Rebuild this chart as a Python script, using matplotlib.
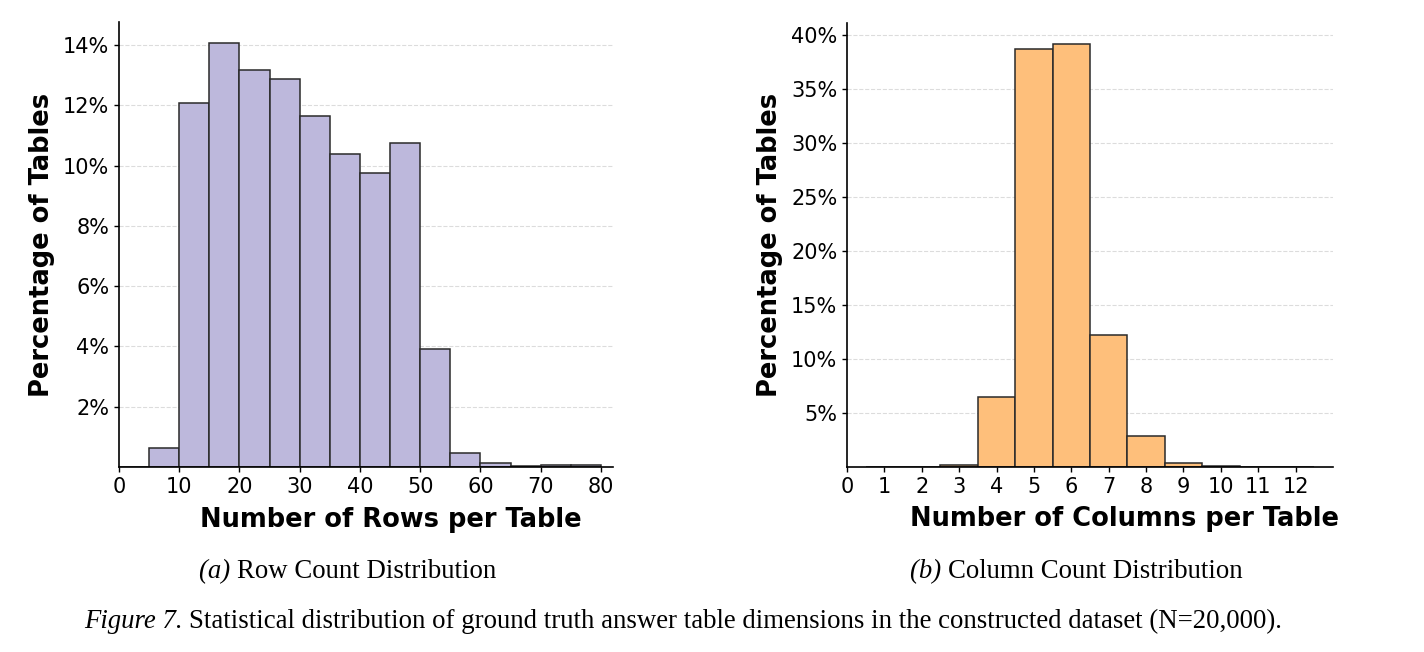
import numpy as np
import matplotlib
matplotlib.use("Agg")
import matplotlib.pyplot as plt
from matplotlib.ticker import FuncFormatter

# row-count histogram: bin edges 0..80 step 5, percent of tables per bin
ROW_EDGES = [0, 5, 10, 15, 20, 25, 30, 35, 40, 45, 50, 55, 60, 65, 70, 75, 80]
ROW_PCT = [0.0, 0.63, 12.08, 14.06, 13.18, 12.86, 11.63, 10.40, 9.75, 10.75, 3.91, 0.45, 0.14, 0.03, 0.05, 0.05]
ROW_TICKS = [0, 10, 20, 30, 40, 50, 60, 70, 80]
ROW_YTICKS = [2, 4, 6, 8, 10, 12, 14]

# column-count histogram: one bin per integer
COL_EDGES = [0.5, 1.5, 2.5, 3.5, 4.5, 5.5, 6.5, 7.5, 8.5, 9.5, 10.5, 11.5, 12.5]
COL_PCT = [0.0, 0.0, 0.15, 6.47, 38.65, 39.11, 12.20, 2.87, 0.40, 0.07, 0.0, 0.0]
COL_TICKS = list(range(13))
COL_YTICKS = [5, 10, 15, 20, 25, 30, 35, 40]

PURPLE = "#bdb8dc"
ORANGE = "#febf7b"

W, H = 1424, 652
fig = plt.figure(figsize=(W / 100, H / 100), dpi=100)


def px_axes(x0, x1, y_top, y_bot):
    return fig.add_axes([x0 / W, 1 - y_bot / H, (x1 - x0) / W, (y_bot - y_top) / H])


def draw_hist(ax, edges, pct, color, xticks, yticks, xlim, xlabel, xlabel_x):
    edges = np.asarray(edges, dtype=float)
    ax.bar(edges[:-1], pct, width=np.diff(edges), align="edge", color=color,
           edgecolor="#2a2a2a", linewidth=1.1, zorder=2)
    ax.set_xlim(*xlim)
    ax.set_ylim(0, max(pct) * 1.05)
    ax.set_xticks(xticks)
    ax.set_yticks(yticks)
    ax.yaxis.set_major_formatter(FuncFormatter(lambda v, _: f"{v:.0f}%"))
    ax.tick_params(labelsize=15, length=3.5, width=1.0)
    ax.grid(axis="y", linestyle="--", color="#dcdcdc", linewidth=0.8, zorder=0)
    ax.set_axisbelow(True)
    for s in ("top", "right"):
        ax.spines[s].set_visible(False)
    for s in ("left", "bottom"):
        ax.spines[s].set_linewidth(1.2)
    ax.set_xlabel(xlabel, fontsize=18.5, fontweight="bold", va="center")
    ax.xaxis.set_label_coords(xlabel_x, -0.118)
    ax.set_ylabel("Percentage of Tables", fontsize=18.5, fontweight="bold", labelpad=6)


ax1 = px_axes(119, 613, 22, 467)
draw_hist(ax1, ROW_EDGES, ROW_PCT, PURPLE, ROW_TICKS, ROW_YTICKS, (0, 82),
          "Number of Rows per Table", 0.551)

ax2 = px_axes(847, 1333, 23, 467)
draw_hist(ax2, COL_EDGES, COL_PCT, ORANGE, COL_TICKS, COL_YTICKS, (0, 13),
          "Number of Columns per Table", 0.572)

serif = "Liberation Serif"
CAP_SIZE = 19.3


def caption(xc, y, italic, rest):
    # italic lead-in followed by upright text, centred on xc as a whole
    t1 = fig.text(0, 0, italic + " ", fontsize=CAP_SIZE, family=serif, style="italic")
    t2 = fig.text(0, 0, rest, fontsize=CAP_SIZE, family=serif)
    fig.canvas.draw()
    r = fig.canvas.get_renderer()
    w1 = t1.get_window_extent(r).width
    w2 = t2.get_window_extent(r).width
    x0 = xc - (w1 + w2) / 2
    t1.set_position((x0 / W, 1 - y / H))
    t2.set_position(((x0 + w1) / W, 1 - y / H))
    t1.set_va("center")
    t2.set_va("center")


caption(348, 572, "(a)", "Row Count Distribution")
caption(1076, 572, "(b)", "Column Count Distribution")
caption(683, 621, "Figure 7.", "Statistical distribution of ground truth answer table dimensions in the constructed dataset (N=20,000).")

fig.savefig("out.png", dpi=100)
